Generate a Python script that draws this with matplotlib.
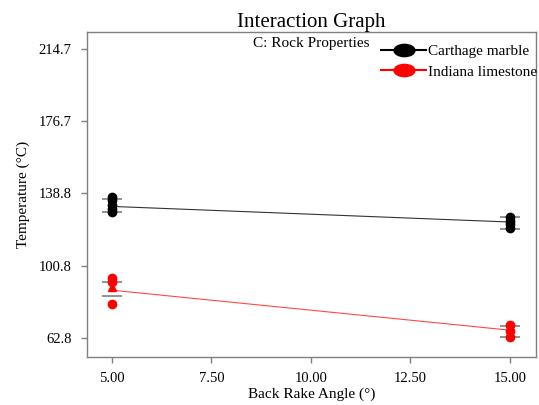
"""Interaction graph: temperature vs back rake angle for two rock types."""

import matplotlib

matplotlib.use("Agg")

import matplotlib.pyplot as plt  # noqa: E402
from matplotlib.path import Path  # noqa: E402
from matplotlib.transforms import Affine2D  # noqa: E402

plt.rcParams["font.family"] = ["Liberation Serif", "DejaVu Serif"]

angles = [5.0, 15.0]
x_ticks = [5.0, 7.5, 10.0, 12.5, 15.0]
y_ticks = [62.8, 100.8, 138.8, 176.7, 214.7]

# predicted means (lines)
marble_mean = [132.0, 123.8]
limestone_mean = [88.0, 67.0]

# LSD bar ends (low, high) at each angle
marble_bars = [(129.0, 135.8), (120.1, 126.4)]
limestone_bars = [(84.9, 92.2), (63.3, 69.1)]

# design points
marble_pts_5 = [137.0, 135.5, 133.0, 130.5, 129.0]
marble_pts_15 = [126.4, 124.5, 122.5, 120.5]
limestone_pts_5 = [94.3, 92.2, 80.7]
limestone_tri_5 = [89.6]
limestone_pts_15 = [69.6, 66.5, 63.3]

GREY = "#808080"
ellipse = Path.unit_circle().transformed(Affine2D().scale(1.7, 1.0))

fig = plt.figure(figsize=(5.39, 4.05), dpi=100)
ax = fig.add_axes([0.161, 0.118, 0.833, 0.803])

ax.plot(angles, marble_mean, color="#333333", lw=0.8)
ax.plot(angles, limestone_mean, color="#ff4848", lw=0.8)

for x, (lo, hi) in zip(angles, marble_bars):
    ax.hlines([lo, hi], x - 0.25, x + 0.25, color=GREY, lw=1.2)
for x, (lo, hi) in zip(angles, limestone_bars):
    ax.hlines([lo, hi], x - 0.25, x + 0.25, color=GREY, lw=1.2)

ax.plot([5.0] * len(marble_pts_5), marble_pts_5, "o", color="black", ms=6)
ax.plot([15.0] * len(marble_pts_15), marble_pts_15, "o", color="black", ms=6)
ax.plot([5.0] * len(limestone_pts_5), limestone_pts_5, "o", color="red", ms=6)
ax.plot([5.0] * len(limestone_tri_5), limestone_tri_5, "^", color="red", ms=6)
ax.plot([15.0] * len(limestone_pts_15), limestone_pts_15, "o", color="red", ms=6)

# legend proxies
ax.plot([], [], color="black", marker=ellipse, ms=15, lw=1.5, label="Carthage marble")
ax.plot([], [], color="red", marker=ellipse, ms=15, lw=1.5, label="Indiana limestone")
ax.legend(loc="upper right", frameon=False, fontsize=11, handlelength=2.9,
          handletextpad=0.15, labelspacing=0.45, borderaxespad=0.1,
          bbox_to_anchor=(1.02, 0.985))

ax.set_xlim(4.37, 15.65)
ax.set_ylim(52.8, 223.6)
ax.set_xticks(x_ticks)
ax.set_xticklabels([f"{v:.2f}" for v in x_ticks])
ax.set_yticks(y_ticks)
ax.set_yticklabels([f"{v:.1f}" for v in y_ticks])
ax.tick_params(colors=GREY, labelcolor="black", labelsize=10.5, length=4, width=1)
ax.tick_params(axis="y", pad=7)
ax.tick_params(axis="x", pad=6.5)
for s in ax.spines.values():
    s.set_color(GREY)
    s.set_linewidth(1)

ax.set_xlabel("Back Rake Angle (°)", fontsize=11, labelpad=2)
ax.set_ylabel("Temperature (°C)", fontsize=11, labelpad=6)
ax.set_title("Interaction Graph", fontsize=15, pad=1)
ax.text(0.5, 0.985, "C: Rock Properties", transform=ax.transAxes,
        ha="center", va="top", fontsize=11)

fig.savefig("out.png", dpi=100)
